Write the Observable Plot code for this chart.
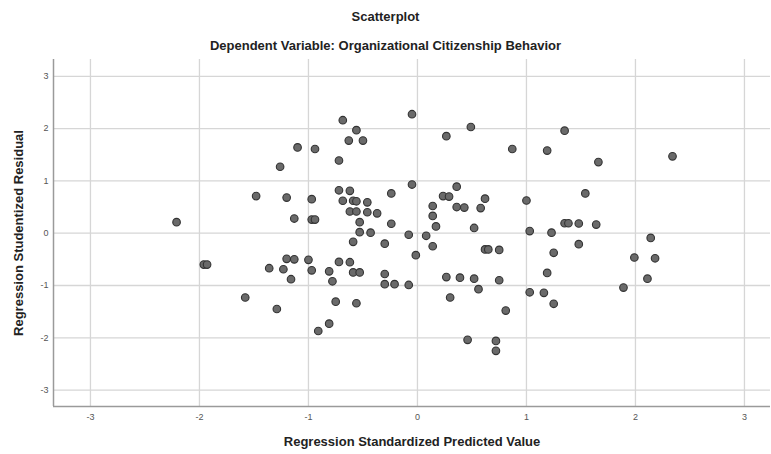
<!DOCTYPE html>
<html>
<head>
<meta charset="utf-8">
<script src="https://cdn.jsdelivr.net/npm/d3@7"></script>
<script src="https://cdn.jsdelivr.net/npm/@observablehq/plot@0.6"></script>
<style>
  html, body { margin: 0; padding: 0; background: #fff; }
  #wrap { position: relative; width: 771px; height: 454px; font-family: "Liberation Sans", Arial, sans-serif; }
  #head { position: relative; width: 771px; height: 56px; }
  .t { position: absolute; left: 0; width: 771px; text-align: center; font-weight: bold; font-size: 13px; color: #222; line-height: 16px; }
  #chart svg { display: block; }
</style>
</head>
<body>
<div id="wrap">
  <div id="head">
    <div class="t" style="top:9px">Scatterplot</div>
    <div class="t" style="top:38px">Dependent Variable: Organizational Citizenship Behavior</div>
  </div>
  <div id="chart"></div>
</div>
<script>
const titleText = "Scatterplot";
const xLabel = "Regression Standardized Predicted Value";
const yLabel = "Regression Studentized Residual";
const xTicks = [-3, -2, -1, 0, 1, 2, 3];
const yTicks = [-3, -2, -1, 0, 1, 2, 3];

const predicted = [
  -2.21, -1.96, -1.93, -1.58, -1.48, -1.36, -1.29, -1.26, -1.23, -1.20,
  -1.20, -1.16, -1.13, -1.13, -1.10, -1.00, -0.97, -0.97, -0.94, -0.97,
  -0.94, -0.91, -0.81, -0.81, -0.78, -0.75, -0.72, -0.72, -0.72, -0.685,
  -0.685, -0.63, -0.62, -0.62, -0.62, -0.59, -0.59, -0.59, -0.56, -0.56,
  -0.56, -0.56, -0.53, -0.53, -0.53, -0.50, -0.46, -0.46, -0.43, -0.37,
  -0.30, -0.30, -0.30, -0.24, -0.24, -0.21, -0.08, -0.08, -0.05, -0.05,
  -0.015, 0.08, 0.14, 0.14, 0.14, 0.17, 0.235, 0.265, 0.265, 0.29,
  0.30, 0.36, 0.36, 0.39, 0.43, 0.46, 0.49, 0.52, 0.52, 0.56,
  0.58, 0.62, 0.62, 0.65, 0.72, 0.72, 0.75, 0.75, 0.81, 0.87,
  1.00, 1.03, 1.03, 1.16, 1.19, 1.19, 1.23, 1.25, 1.25, 1.35,
  1.35, 1.385, 1.48, 1.48, 1.54, 1.64, 1.66, 1.89, 1.99, 2.11,
  2.14, 2.18, 2.34
];
const residual = [
  0.21, -0.60, -0.60, -1.23, 0.71, -0.67, -1.45, 1.27, -0.69, 0.68,
  -0.49, -0.88, 0.28, -0.50, 1.64, -0.51, 0.65, 0.26, 0.26, -0.71,
  1.61, -1.87, -0.73, -1.73, -0.92, -1.31, 1.39, 0.82, -0.55, 2.16,
  0.62, 1.77, 0.81, 0.415, -0.555, 0.62, -0.165, -0.75, 1.97, 0.61,
  0.415, -1.34, 0.21, 0.02, -0.75, 1.77, 0.59, 0.40, 0.01, 0.38,
  -0.20, -0.78, -0.975, 0.76, 0.18, -0.975, -0.03, -0.99, 2.275, 0.93,
  -0.42, -0.05, 0.52, 0.33, -0.25, 0.13, 0.71, 1.855, -0.84, 0.70,
  -1.23, 0.89, 0.50, -0.85, 0.49, -2.04, 2.03, 0.10, -0.87, -1.07,
  0.48, 0.66, -0.31, -0.31, -2.06, -2.25, -0.32, -0.90, -1.48, 1.61,
  0.625, 0.04, -1.13, -1.14, 1.58, -0.76, 0.01, -0.375, -1.35, 1.96,
  0.19, 0.19, 0.185, -0.21, 0.76, 0.165, 1.36, -1.04, -0.465, -0.87,
  -0.09, -0.48, 1.47
];

const points = predicted.map((x, i) => ({x, y: residual[i]}));
const fmt = d => String(d);

const chart = Plot.plot({
  width: 771,
  height: 398,
  marginTop: 3,
  marginBottom: 48,
  marginLeft: 53,
  marginRight: 1,
  style: { fontFamily: "'Liberation Sans', Arial, sans-serif", background: "#fff", overflow: "visible" },
  x: { domain: [-3.339, 3.239], label: null },
  y: { domain: [-3.314, 3.321], label: null },
  marks: [
    Plot.ruleX(xTicks, { stroke: "#d6d6d6", strokeWidth: 1.3 }),
    Plot.ruleY(yTicks, { stroke: "#d6d6d6", strokeWidth: 1.3 }),
    Plot.axisX(xTicks, { tickSize: 0, tickPadding: 7, fontSize: 9, fill: "#555", label: null, tickFormat: fmt }),
    Plot.axisY(yTicks, { tickSize: 0, tickPadding: 5, fontSize: 9, fill: "#555", label: null, tickFormat: fmt }),
    Plot.ruleX([-3.339], { stroke: "#9a9a9a", strokeWidth: 1.5 }),
    Plot.ruleY([-3.314], { stroke: "#9a9a9a", strokeWidth: 1.5 }),
    Plot.dot(points, { x: "x", y: "y", r: 3.8, fill: "#6a6a6a", stroke: "#333", strokeWidth: 1.1 }),
    Plot.text([xLabel], { frameAnchor: "bottom", dy: 39, text: d => d, fontSize: 13, fontWeight: "bold", fill: "#222" }),
    Plot.text([yLabel], { frameAnchor: "left", dx: -35, rotate: -90, textAnchor: "middle", text: d => d, fontSize: 13, fontWeight: "bold", fill: "#222" })
  ]
});
document.getElementById("chart").appendChild(chart);
</script>
</body>
</html>
